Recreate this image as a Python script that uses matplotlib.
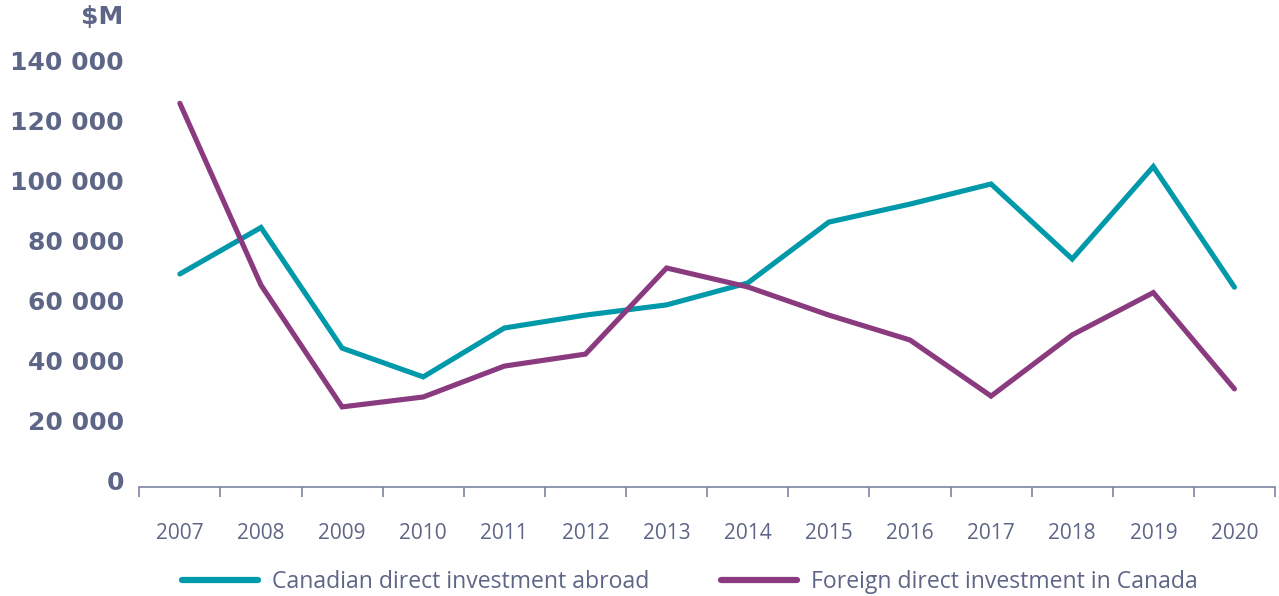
import numpy as np
import matplotlib
matplotlib.use('Agg')
import matplotlib.pyplot as plt

years = ['2007', '2008', '2009', '2010', '2011', '2012', '2013',
         '2014', '2015', '2016', '2017', '2018', '2019', '2020']

# $M
cdia = [69000, 84500, 44300, 34700, 51000, 55300, 58700,
        66000, 86300, 92300, 99000, 74000, 104800, 64600]
fdi = [125900, 65300, 24700, 28000, 38300, 42300, 71000,
       64700, 55300, 47000, 28300, 48700, 62800, 30700]

teal = '#0099a9'
purple = '#8a3a7e'
txt = '#5e6687'
axcol = '#7d84a0'

plt.rcParams['font.family'] = ['Open Sans', 'DejaVu Sans']

fig = plt.figure(figsize=(12.79, 5.96), dpi=100)
ax = fig.add_axes([139.3 / 1279, 109 / 596, (1275 - 139.3) / 1279, 426 / 596])

x = np.arange(len(years))
ax.plot(x, cdia, color=teal, lw=3.7, solid_capstyle='round',
        solid_joinstyle='miter', clip_on=False, label='Canadian direct investment abroad')
ax.plot(x, fdi, color=purple, lw=3.7, solid_capstyle='round',
        solid_joinstyle='miter', clip_on=False, label='Foreign direct investment in Canada')

ax.set_xlim(-0.5, len(years) - 0.5)
ax.set_ylim(-2000, 140000)

yt = np.arange(0, 140001, 20000)
ax.set_yticks(yt)
ax.set_yticklabels([f'{v:,}'.replace(',', ' ') for v in yt])
ax.tick_params(axis='y', length=0, pad=11, labelsize=18, labelcolor=txt)
for lab in ax.get_yticklabels():
    lab.set_family('DejaVu Sans')
    lab.set_fontweight('bold')

ax.set_xticks(x)
ax.set_xticklabels(years)
ax.set_xticks(np.arange(-0.5, len(years)), minor=True)
ax.tick_params(axis='x', which='major', length=0, pad=26, labelsize=15, labelcolor=txt)
ax.tick_params(axis='x', which='minor', length=7, width=1.2, color=axcol, direction='out')

for s in ['top', 'right', 'left']:
    ax.spines[s].set_visible(False)
ax.spines['bottom'].set_color(axcol)
ax.spines['bottom'].set_linewidth(1.2)

fig.text(123 / 1279, 1 - 17 / 596, '$M', ha='right', va='center', fontsize=18,
         family='DejaVu Sans', fontweight='bold', color=txt)

leg = fig.legend(loc='center left', bbox_to_anchor=(182 / 1279, 1 - 582 / 596), ncol=2,
                 frameon=False, fontsize=16.6, handlelength=3.3, handletextpad=0.6,
                 columnspacing=3.1, borderpad=0, borderaxespad=0)
for t in leg.get_texts():
    t.set_color(txt)
for h in leg.get_lines():
    h.set_linewidth(4.5)
    h.set_solid_capstyle('round')

fig.savefig('out.png', dpi=100)
